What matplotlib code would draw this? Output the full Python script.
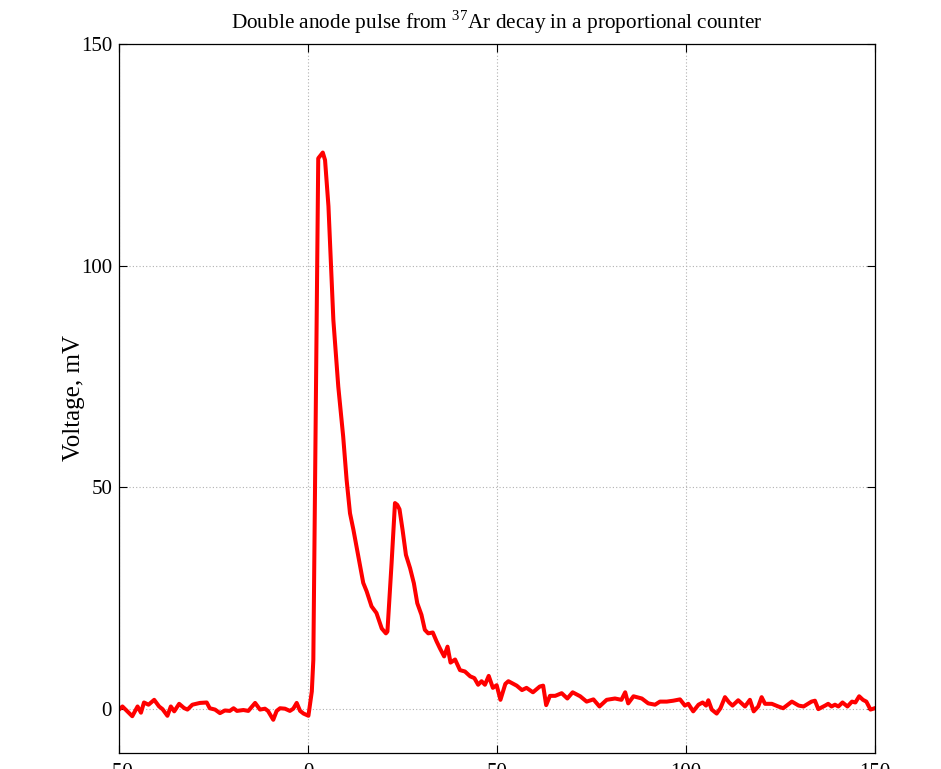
import matplotlib
matplotlib.use("Agg")
import matplotlib.pyplot as plt
from matplotlib.ticker import FuncFormatter

# Anode pulse trace: time (arb. units) and voltage (mV)
time = [-50, -49.1, -46.5, -45.1, -44.2, -43.4, -42.2, -40.7, -39.4, -38.5,
        -37.2, -36.3, -35.4, -34.1, -32.8, -31.9, -30.6, -28.6, -26.8, -26.0,
        -24.6, -23.3, -22.0, -20.7, -19.7, -18.8, -17.1, -15.8, -14.0, -12.7,
        -11.4, -10.6, -9.2, -8.3, -7.4, -6.1, -4.8, -3.9, -3.0, -2.1,
        -1.2, 0.1, 1.0, 1.4, 2.3, 2.7, 3.9, 4.5, 5.4, 6.7,
        8.0, 9.3, 10.2, 11.1, 12.0, 13.3, 14.6, 15.5, 16.8, 18.1,
        19.5, 20.6, 21.0, 22.1, 23.0, 23.6, 24.2, 25.0, 25.9, 27.0,
        28.0, 28.9, 30.0, 30.9, 31.8, 33.0, 34.0, 34.9, 36.0, 36.9,
        37.7, 38.9, 40.2, 41.5, 42.9, 44.0, 45.0, 45.9, 46.8, 47.8,
        48.9, 49.9, 50.9, 52.2, 53.0, 55.2, 56.6, 57.8, 59.5, 61.3,
        62.2, 63.0, 64.0, 65.4, 67.1, 68.6, 70.0, 72.0, 73.7, 75.5,
        77.1, 79.0, 81.2, 82.9, 83.9, 84.7, 86.1, 88.3, 90.0, 91.8,
        93.1, 94.9, 96.6, 98.4, 99.7, 100.6, 101.9, 103.3, 104.4, 105.3,
        105.9, 106.8, 108.1, 109.1, 110.3, 111.4, 112.3, 113.8, 115.6, 116.9,
        117.9, 119.1, 120.0, 120.9, 122.7, 124.4, 125.7, 128.0, 129.8, 131.1,
        133.2, 134.1, 135.0, 136.8, 137.6, 138.5, 139.4, 140.3, 141.4, 142.7,
        143.9, 144.8, 145.8, 146.8, 147.7, 148.8, 149.9]
voltage = [-0.2, 0.5, -1.7, 0.5, -0.9, 1.4, 0.9, 2.0, 0.5, -0.1,
           -1.6, 0.5, -0.6, 1.1, 0.15, -0.2, 0.9, 1.3, 1.4, 0.1,
           -0.2, -1.0, -0.4, -0.5, 0.1, -0.5, -0.3, -0.5, 1.3, -0.2,
           0.0, -0.5, -2.5, -0.5, 0.1, 0.0, -0.5, 0.0, 1.3, -0.5,
           -1.1, -1.6, 3.9, 11.0, 87.7, 124.2, 125.5, 123.8, 113.4, 87.7,
           72.7, 61.4, 51.7, 44.1, 40.4, 34.4, 28.4, 26.5, 23.1, 21.6,
           18.1, 17.0, 17.4, 32.8, 46.4, 46.0, 45.0, 40.4, 34.7, 31.7,
           28.3, 23.8, 21.2, 17.8, 17.0, 17.2, 15.2, 13.6, 11.8, 14.0,
           10.4, 11.1, 8.7, 8.4, 7.3, 6.9, 5.4, 6.2, 5.4, 7.4,
           4.7, 5.3, 2.0, 5.6, 6.2, 5.2, 4.2, 4.7, 3.7, 5.0,
           5.2, 0.8, 2.9, 2.9, 3.5, 2.3, 3.7, 2.8, 1.6, 2.1,
           0.5, 2.0, 2.3, 2.0, 3.7, 1.2, 2.8, 2.3, 1.2, 0.9,
           1.6, 1.6, 1.8, 2.1, 0.7, 1.1, -0.6, 0.9, 1.4, 0.7,
           1.9, -0.2, -1.1, 0.1, 2.6, 1.4, 0.7, 1.9, 0.5, 2.0,
           -0.6, 0.5, 2.6, 1.1, 1.1, 0.5, 0.1, 1.6, 0.7, 0.5,
           1.6, 1.8, -0.1, 0.7, 1.1, 0.5, 0.9, 0.5, 1.4, 0.5,
           1.6, 1.4, 2.8, 2.0, 1.6, -0.2, 0.1]

x_ticks = [-50, 0, 50, 100, 150]
y_ticks = [0, 50, 100, 150]

plt.rcParams["font.family"] = ["Liberation Serif", "DejaVu Serif"]
plt.rcParams["mathtext.fontset"] = "custom"
plt.rcParams["mathtext.rm"] = "Liberation Serif"

fig = plt.figure(figsize=(9.41, 7.69), dpi=100)
ax = fig.add_axes([0.1265, 0.0208, 0.8034, 0.922])

ax.plot(time, voltage, color="#ff0000", lw=2.9, solid_joinstyle="round")

ax.set_xlim(-50, 150)
ax.set_ylim(-10, 150)
ax.set_xticks(x_ticks)
ax.set_yticks(y_ticks)
ax.xaxis.set_major_formatter(FuncFormatter(lambda v, p: f"{v:g}"))
ax.grid(True, color="#b0b0b0", linestyle=(0, (1, 2)), linewidth=0.8)

ax.tick_params(direction="in", length=6, width=0.8, top=True, right=True,
               labelsize=15, colors="black")
ax.tick_params(axis="x", pad=7)
ax.tick_params(axis="y", pad=5)
for s in ax.spines.values():
    s.set_linewidth(0.9)

ax.set_ylabel("Voltage, mV", fontsize=18, labelpad=-3)
ax.set_title("Double anode pulse from $^{37}$Ar decay in a proportional counter",
             fontsize=15.3, pad=11)

fig.savefig("out.png", dpi=100)
